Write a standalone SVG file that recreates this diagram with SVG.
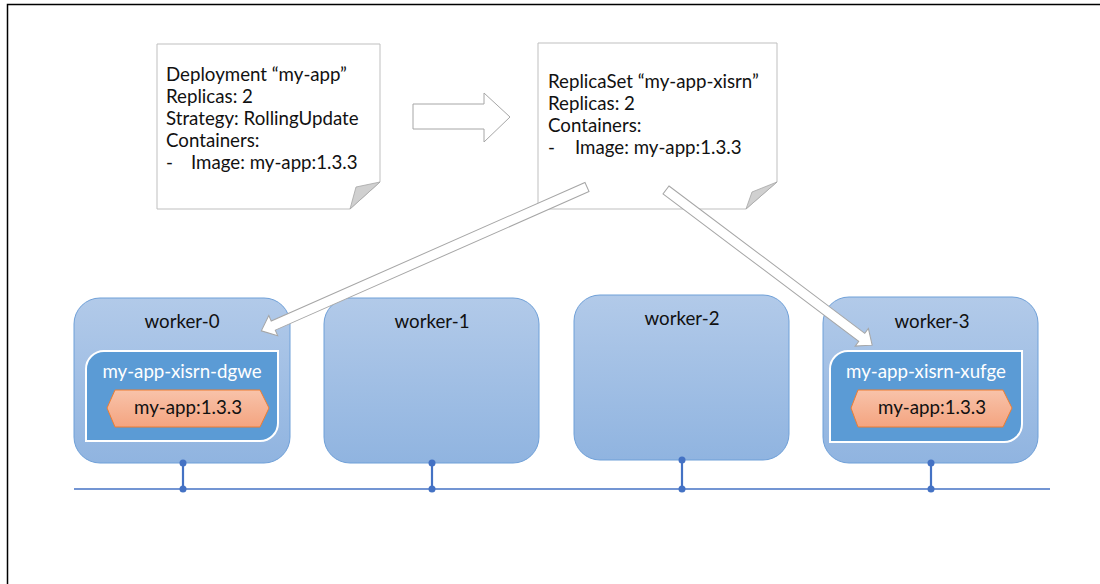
<svg xmlns="http://www.w3.org/2000/svg" width="1100" height="584" viewBox="0 0 1100 584">
<style>
.t{font-family:Lato,"Liberation Sans",sans-serif;font-size:18.7px;fill:#111}
.c{text-anchor:middle}
.w{fill:#fff}
.note{fill:#fff;stroke:#bfbfbf;stroke-width:1}
.fold{fill:#d0d0d0;stroke:#a6a6a6;stroke-width:0.8}
.worker{fill:url(#gw);stroke:#6fa0d8;stroke-width:1}
.pod{fill:#5b9bd5;stroke:#fff;stroke-width:2}
.hex{fill:url(#gh);stroke:#ed7d31;stroke-width:1}
.blk{fill:#fff;stroke:#a6a6a6;stroke-width:1}
.net{stroke:#4472c4;fill:none}
.dot{fill:#4472c4}
</style>
<defs>
<linearGradient id="gw" x1="0" y1="0" x2="0" y2="1">
<stop offset="0" stop-color="#b2cae9"/>
<stop offset="1" stop-color="#90b4e0"/>
</linearGradient>
<linearGradient id="gh" x1="0" y1="0" x2="0" y2="1">
<stop offset="0" stop-color="#f8c3aa"/>
<stop offset="1" stop-color="#f4a480"/>
</linearGradient>
</defs>
<rect width="1100" height="584" fill="#fff"/>
<path d="M7.5 584 V4.5 H1100" fill="none" stroke="#000" stroke-width="1.5"/>

<g id="deployment">
<path class="note" d="M157 44 H380 V182 L350 209 H157 Z"/>
<path class="fold" d="M350 209 L356 187 L380 182 Z"/>
<text class="t" x="166" y="81">Deployment “my-app”</text>
<text class="t" x="166" y="103">Replicas: 2</text>
<text class="t" x="166" y="125">Strategy: RollingUpdate</text>
<text class="t" x="166" y="147">Containers:</text>
<text class="t" x="166" y="169">-</text>
<text class="t" x="191" y="169">Image: my-app:1.3.3</text>
</g>

<g id="replicaset">
<path class="note" d="M538 43 H777 V182 L746 209 H538 Z"/>
<path class="fold" d="M746 209 L752 192 L777 182 Z"/>
<text class="t" x="548" y="88">ReplicaSet “my-app-xisrn”</text>
<text class="t" x="548" y="110">Replicas: 2</text>
<text class="t" x="548" y="132">Containers:</text>
<text class="t" x="548" y="154">-</text>
<text class="t" x="575" y="154">Image: my-app:1.3.3</text>
</g>

<g id="worker-0">
<rect class="worker" x="74" y="298" width="216" height="165" rx="26"/>
<text class="t c" x="182" y="328">worker-0</text>
<path class="pod" d="M104 351 H278 V423 A18 18 0 0 1 260 441 H86 V369 A18 18 0 0 1 104 351 Z"/>
<text class="t c w" x="182" y="378">my-app-xisrn-dgwe</text>
<polygon class="hex" points="107,408 115,390 260,390 269,408 260,427 115,427"/>
<text class="t c" x="188" y="414">my-app:1.3.3</text>
</g>

<g id="worker-1">
<rect class="worker" x="324" y="298" width="215" height="165" rx="26"/>
<text class="t c" x="432" y="328">worker-1</text>
</g>

<g id="worker-2">
<rect class="worker" x="574" y="295" width="215" height="165" rx="26"/>
<text class="t c" x="682" y="325">worker-2</text>
</g>

<g id="worker-3">
<rect class="worker" x="823" y="297" width="215" height="166" rx="26"/>
<text class="t c" x="932" y="328">worker-3</text>
<path class="pod" d="M848 351 H1022 V424 A18 18 0 0 1 1004 442 H830 V369 A18 18 0 0 1 848 351 Z"/>
<text class="t c w" x="926" y="378">my-app-xisrn-xufge</text>
<polygon class="hex" points="851,408 858,390 1003,390 1012,408 1003,427 858,427"/>
<text class="t c" x="932" y="414">my-app:1.3.3</text>
</g>

<g id="connectors">
<polygon class="blk" points="413,104 484,104 484,93 510,117 484,142 484,129 413,129"/>
<g transform="translate(587 187) rotate(156.17)">
<polygon class="blk" points="0,-5 343,-5 343,-11 356,0 343,11 343,5 0,5"/>
</g>
<g transform="translate(666 190) rotate(36.96)">
<polygon class="blk" points="0,-5 245,-5 245,-11 258,0 245,11 245,5 0,5"/>
</g>
<line class="net" x1="74" y1="489" x2="1050" y2="489" stroke-width="1.5"/>
<g class="net" stroke-width="2.2">
<line x1="183" y1="463" x2="183" y2="489"/>
<line x1="432" y1="463" x2="432" y2="489"/>
<line x1="682" y1="460" x2="682" y2="489"/>
<line x1="931" y1="463" x2="931" y2="489"/>
</g>
<circle class="dot" cx="183" cy="463" r="3.5"/><circle class="dot" cx="183" cy="489" r="3.5"/>
<circle class="dot" cx="432" cy="463" r="3.5"/><circle class="dot" cx="432" cy="489" r="3.5"/>
<circle class="dot" cx="682" cy="460" r="3.5"/><circle class="dot" cx="682" cy="489" r="3.5"/>
<circle class="dot" cx="931" cy="463" r="3.5"/><circle class="dot" cx="931" cy="489" r="3.5"/>
</g>
</svg>
